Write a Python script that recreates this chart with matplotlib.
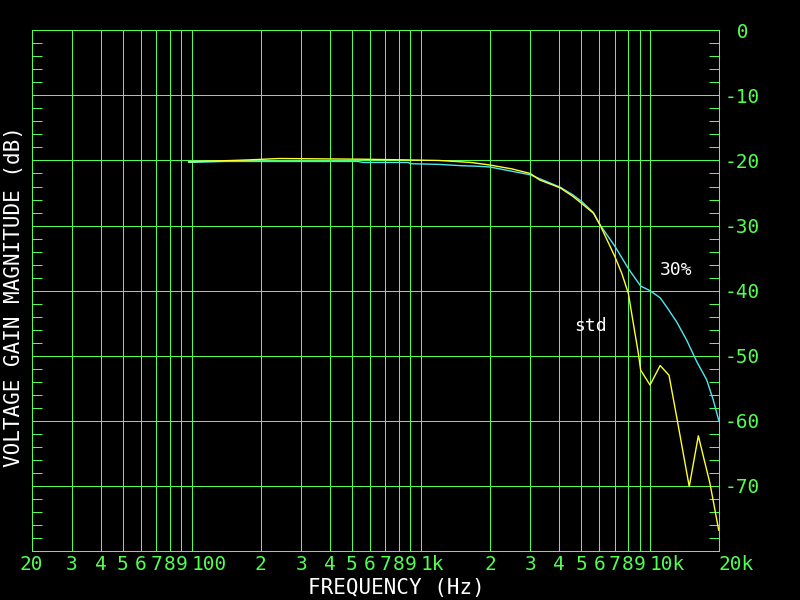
#!/usr/bin/env python3
"""Voltage gain magnitude vs frequency, std vs 30% (scope-style plot)."""
import numpy as np
import matplotlib; matplotlib.use("Agg")
import matplotlib.pyplot as plt

# ---------- data ----------
std_f = [97, 150, 180, 240, 540, 830, 1200, 1650, 2000, 2500, 3000, 3300, 4050, 4600, 5030,
         5660, 6050, 7030, 7520, 8040, 8450, 8890, 9100, 10000, 11070, 12100, 13070, 14830,
         16250, 18260, 19940]
std_db = [-20.2, -20.0, -19.9, -19.7, -19.8, -19.9, -20.0, -20.3, -20.7, -21.3, -22.0, -23.0,
          -24.2, -25.5, -26.6, -28.1, -29.9, -34.8, -37.3, -40.4, -45.0, -49.6, -52.2, -54.5,
          -51.5, -53.0, -59.4, -70.1, -62.3, -69.6, -76.8]
p30_f = [97, 140, 530, 560, 880, 900, 1200, 1500, 1800, 2000, 3000, 4050, 4610, 5030, 5660,
         6050, 7030, 8040, 9100, 10000, 11070, 11820, 13070, 14450, 15990, 17670, 18880, 19940]
p30_db = [-20.3, -20.15, -20.15, -20.3, -20.3, -20.5, -20.6, -20.8, -20.9, -21.0, -22.2, -24.1,
          -25.3, -26.3, -28.0, -29.9, -33.2, -36.6, -39.3, -40.0, -41.1, -42.5, -44.8, -47.6,
          -50.9, -53.7, -56.8, -59.9]

xticks = [20, 30, 40, 50, 60, 70, 80, 90, 100, 200, 300, 400, 500, 600, 700, 800, 900,
          1000, 2000, 3000, 4000, 5000, 6000, 7000, 8000, 9000, 10000, 20000]
xlabels = ["20", "3", "4", "5", "6", "7", "8", "9", "100", "2", "3", "4", "5", "6", "7", "8", "9",
           "1k", "2", "3", "4", "5", "6", "7", "8", "9", "10k", "20k"]
yticks = [0, -10, -20, -30, -40, -50, -60, -70, -80]
ylabels = [" 0", "-10", "-20", "-30", "-40", "-50", "-60", "-70", ""]

GREEN = "#50ff50"; YEL = "#ffff30"; CYAN = "#50e8f0"
MONO = "DejaVu Sans Mono"

fig = plt.figure(figsize=(8, 6), dpi=100, facecolor="black")
ax = fig.add_axes([31.7/800, 49/600, 687.3/800, 520.7/600], facecolor="black")
ax.set_xscale("log")
ax.set_xlim(20, 20000); ax.set_ylim(-80, 0)

ax.plot(p30_f, p30_db, color=CYAN, lw=1.0)
ax.plot(std_f, std_db, color=YEL, lw=1.0)

ax.set_xticks(xticks); ax.set_xticks([], minor=True)
ax.set_xticklabels(xlabels, fontfamily=MONO, fontsize=14, color=GREEN)
for t, s in zip(ax.get_xticklabels(), xlabels):
    if len(s) > 1 and s != "20": t.set_ha("left")
ax.tick_params(axis="x", which="major", length=0, pad=3)

ax.set_yticks(yticks); ax.set_yticks(np.arange(-80, 1, 2), minor=True)
ax.set_yticklabels(ylabels, fontfamily=MONO, fontsize=14, color=GREEN)
ax.yaxis.tick_right()
ax.tick_params(axis="y", which="major", length=0, pad=4, labelleft=False, labelright=True)
ax.tick_params(axis="y", which="minor", direction="in", length=7, width=0.72, color=GREEN,
               left=True, right=True)

ax.grid(True, which="major", color=GREEN, lw=0.72, antialiased=False)
for s in ax.spines.values():
    s.set_color(GREEN); s.set_linewidth(0.72); s.set_antialiased(False)

ax.text(5470, -45.4, "std", color="white", fontfamily=MONO, fontsize=13, ha="center", va="center")
ax.text(12970, -36.8, "30%", color="white", fontfamily=MONO, fontsize=13, ha="center", va="center")

fig.text(396/800, 1 - 588/600, "FREQUENCY (Hz)", color="white", fontfamily=MONO, fontsize=15,
         ha="center", va="center")
fig.text(14/800, 1 - 297/600, "VOLTAGE GAIN MAGNITUDE (dB)", color="white", fontfamily=MONO,
         fontsize=15, rotation=90, ha="center", va="center")

fig.savefig("out.png", dpi=100, facecolor="black")
